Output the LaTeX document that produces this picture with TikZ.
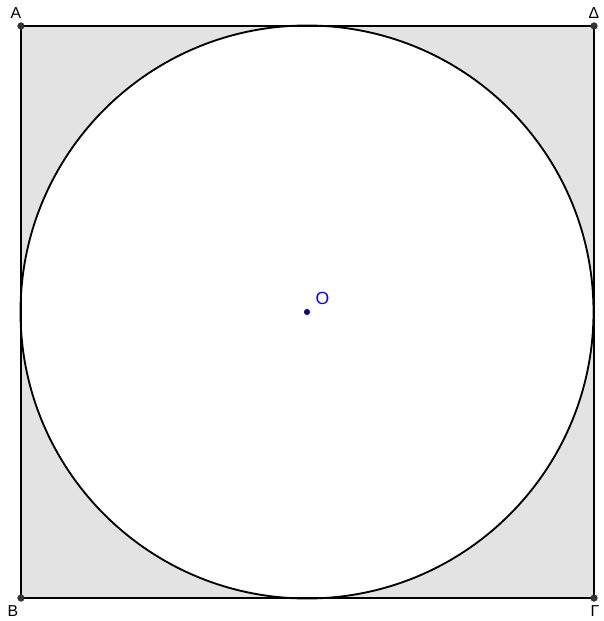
\documentclass[tikz,border=0pt]{standalone}
\usepackage{fontspec}
\setmainfont{Liberation Sans}
\usetikzlibrary{positioning}
\definecolor{regiongrey}{HTML}{E3E3E3}
\definecolor{ptblue}{HTML}{1010C0}

\begin{document}
\begin{tikzpicture}[
    x=0.02cm, y=-0.02cm,
    pt/.style={circle, fill=black!80, inner sep=0pt, minimum size=4pt},
    centrept/.style={circle, fill=ptblue!70!black, inner sep=0pt, minimum size=3.5pt},
    lbl/.style={font=\fontsize{9}{10}\selectfont},
    edge/.style={line width=1.05pt}
]
\useasboundingbox (0,0) rectangle (603,621);
\node[pt] (A) at (21,26) {};
\node[pt] (D) at (594,26) {};
\node[pt] (B) at (21,598) {};
\node[pt] (G) at (594,598) {};
\node[centrept] (O) at (307,312) {};

\fill[regiongrey] (A.center) -- (D.center) -- (G.center) -- (B.center) -- cycle;
\fill[white] (O.center) circle (286.5);
\draw[edge] (A.center) -- (D.center) -- (G.center) -- (B.center) -- cycle;
\draw[edge] (O.center) circle (286.5);

\node[pt] at (A) {};
\node[pt] at (D) {};
\node[pt] at (B) {};
\node[pt] at (G) {};
\node[centrept] at (O) {};

\node[lbl] at (16,13) {A};
\node[lbl] at (594,13) {Δ};
\node[lbl] at (13,611) {B};
\node[lbl] at (595,611) {Γ};
\node[lbl, text=blue, font=\fontsize{10}{11}\selectfont, above right=-1pt and 0pt of O] {O};
\end{tikzpicture}
\end{document}
